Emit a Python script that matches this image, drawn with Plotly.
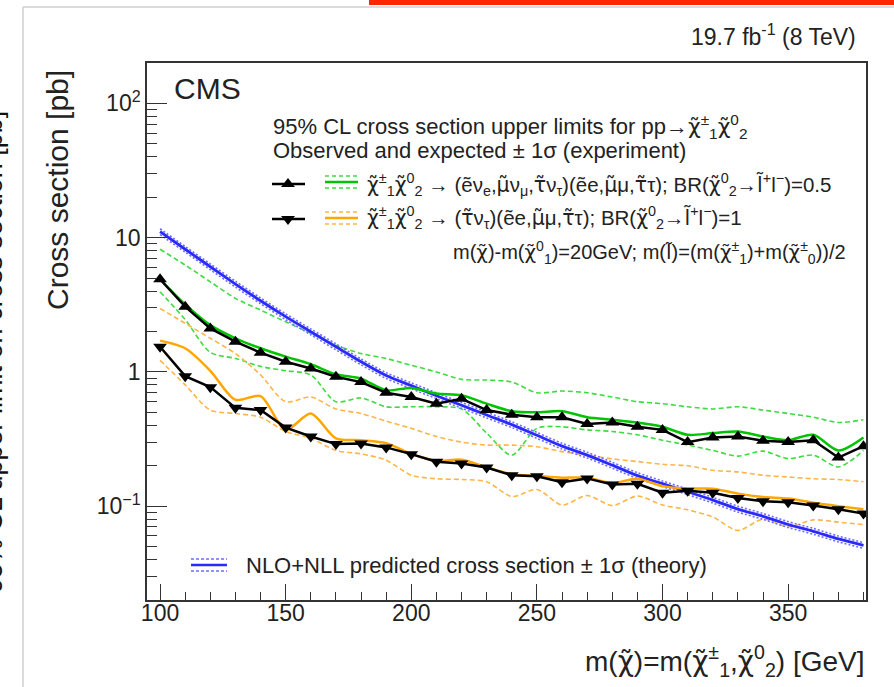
import plotly.graph_objects as go

# ---------------- data ----------------
mass = [100, 110, 120, 130, 140, 150, 160, 170, 180, 190, 200, 210, 220, 230, 240,
        250, 260, 270, 280, 290, 300, 310, 320, 330, 340, 350, 360, 370, 380]

theory = [11.1, 8.2, 6.07, 4.51, 3.39, 2.58, 1.99, 1.54, 1.19, 0.94, 0.79, 0.665, 0.565,
          0.478, 0.405, 0.337, 0.28, 0.24, 0.202, 0.169, 0.147, 0.128, 0.111, 0.095,
          0.084, 0.073, 0.065, 0.057, 0.051]
theory_up = [11.65, 8.6, 6.37, 4.74, 3.56, 2.71, 2.09, 1.62, 1.25, 0.987, 0.83, 0.698, 0.593,
             0.502, 0.425, 0.354, 0.294, 0.252, 0.212, 0.1775, 0.154, 0.134, 0.1165, 0.0998,
             0.0882, 0.0767, 0.0683, 0.0599, 0.0536]
theory_dn = [10.55, 7.8, 5.77, 4.28, 3.22, 2.45, 1.89, 1.46, 1.13, 0.893, 0.75, 0.632, 0.537,
             0.454, 0.385, 0.32, 0.266, 0.228, 0.192, 0.1605, 0.14, 0.122, 0.1055, 0.0903,
             0.0798, 0.0694, 0.0618, 0.0542, 0.0485]

obs_a = [4.9, 3.06, 2.11, 1.68, 1.39, 1.19, 1.06, 0.92, 0.84, 0.70, 0.65, 0.58, 0.63, 0.52,
         0.48, 0.46, 0.46, 0.41, 0.42, 0.39, 0.37, 0.30, 0.325, 0.33, 0.307, 0.30, 0.31,
         0.23, 0.28]
exp_a = [4.9, 3.18, 2.23, 1.78, 1.50, 1.30, 1.14, 0.96, 0.89, 0.73, 0.76, 0.69, 0.67, 0.58,
         0.51, 0.50, 0.51, 0.46, 0.44, 0.42, 0.39, 0.34, 0.35, 0.36, 0.33, 0.31, 0.34,
         0.26, 0.325]
exp_a_up = [8.2, 6.25, 4.69, 3.53, 2.89, 2.36, 1.94, 1.58, 1.37, 1.26, 1.12, 1.0, 0.88, 0.87,
            0.84, 0.70, 0.72, 0.70, 0.65, 0.60, 0.58, 0.55, 0.53, 0.55, 0.52, 0.49, 0.46,
            0.42, 0.44]
exp_a_dn = [3.95, 2.45, 1.40, 1.26, 1.10, 1.02, 0.95, 0.60, 0.64, 0.55, 0.55, 0.55, 0.53,
            0.35, 0.24, 0.38, 0.39, 0.37, 0.36, 0.34, 0.31, 0.285, 0.26, 0.236, 0.257,
            0.226, 0.24, 0.196, 0.26]

obs_b = [1.54, 0.93, 0.77, 0.54, 0.52, 0.385, 0.33, 0.29, 0.293, 0.274, 0.244, 0.214, 0.208,
         0.194, 0.170, 0.167, 0.151, 0.161, 0.145, 0.147, 0.126, 0.130, 0.126, 0.115,
         0.109, 0.107, 0.101, 0.095, 0.088]
exp_b = [1.71, 1.50, 1.02, 0.62, 0.66, 0.37, 0.49, 0.32, 0.31, 0.295, 0.245, 0.218, 0.222,
         0.195, 0.173, 0.168, 0.163, 0.163, 0.149, 0.160, 0.141, 0.135, 0.135, 0.124,
         0.117, 0.114, 0.106, 0.100, 0.095]
exp_b_up = [2.97, 2.3, 1.78, 1.37, 0.95, 0.60, 0.65, 0.53, 0.49, 0.43, 0.38, 0.33, 0.30,
            0.285, 0.285, 0.277, 0.255, 0.24, 0.225, 0.215, 0.205, 0.20, 0.185, 0.18, 0.17,
            0.165, 0.16, 0.158, 0.152]
exp_b_dn = [1.22, 0.80, 0.52, 0.49, 0.46, 0.36, 0.32, 0.26, 0.245, 0.22, 0.17, 0.16, 0.158,
            0.152, 0.118, 0.133, 0.102, 0.12, 0.101, 0.119, 0.102, 0.094, 0.083, 0.066,
            0.080, 0.070, 0.079, 0.076, 0.073]

x_ticks = [100, 150, 200, 250, 300, 350]
y_ticks = [0.1, 1, 10, 100]
y_ticktext = ["10<sup>\u22121</sup>", "1", "10", "10<sup>2</sup>"]

# ---------------- styling ----------------
FONT = "Liberation Sans, Arial, Helvetica, sans-serif"
W, H = 894, 687
L, R, T, B = 147, 866, 63, 600
BLUE = "#2a2aff"
BLUE_L = "#6d6dff"
GREEN = "#00c400"
GREEN_L = "#3fdc3f"
ORANGE = "#ffa600"
ORANGE_L = "#ffb547"


def fx(p):
    return (p - L) / (R - L)


def fy(p):
    return (B - p) / (B - T)


fig = go.Figure()


def line(y, color, width, dash="solid", shape="spline"):
    fig.add_trace(go.Scatter(x=mass, y=y, mode="lines", hoverinfo="skip",
                             line=dict(color=color, width=width, dash=dash, shape=shape,
                                       smoothing=0.8)))


# bands
line(exp_a_up, GREEN_L, 1.6, "5px,3px")
line(exp_a_dn, GREEN_L, 1.6, "5px,3px")
line(exp_b_up, ORANGE_L, 1.6, "5px,3px")
line(exp_b_dn, ORANGE_L, 1.6, "5px,3px")
# theory
line(theory_up, BLUE_L, 1.6, "2px,2px")
line(theory_dn, BLUE_L, 1.6, "2px,2px")
line(theory, BLUE, 2.8)
# expected
line(exp_a, GREEN, 2.5)
line(exp_b, ORANGE, 2.5)
# observed
fig.add_trace(go.Scatter(x=mass, y=obs_a, mode="lines+markers", hoverinfo="skip",
                         line=dict(color="black", width=2.5),
                         marker=dict(symbol="triangle-up", size=12, color="black")))
fig.add_trace(go.Scatter(x=mass, y=obs_b, mode="lines+markers", hoverinfo="skip",
                         line=dict(color="black", width=2.5),
                         marker=dict(symbol="triangle-down", size=12, color="black")))


# ---------------- legend glyphs on an overlay axis (pixel-mapped) ----------------
def glyph(x0, x1, yp, color, width, dash="solid"):
    fig.add_trace(go.Scatter(x=[fx(x0), fx(x1)], y=[fy(yp), fy(yp)], mode="lines",
                             xaxis="x2", yaxis="y2", hoverinfo="skip",
                             line=dict(color=color, width=width, dash=dash)))


glyph(272, 305, 184, "black", 2.5)
fig.add_trace(go.Scatter(x=[fx(288)], y=[fy(184)], mode="markers", xaxis="x2", yaxis="y2",
                         hoverinfo="skip",
                         marker=dict(symbol="triangle-up", size=12, color="black")))
glyph(325, 358, 182, GREEN, 2.5)
glyph(325, 358, 176, GREEN_L, 1.5, "4px,3px")
glyph(325, 358, 188, GREEN_L, 1.5, "4px,3px")

glyph(272, 305, 219, "black", 2.5)
fig.add_trace(go.Scatter(x=[fx(288)], y=[fy(219)], mode="markers", xaxis="x2", yaxis="y2",
                         hoverinfo="skip",
                         marker=dict(symbol="triangle-down", size=12, color="black")))
glyph(325, 358, 218, ORANGE, 2.5)
glyph(325, 358, 212, ORANGE_L, 1.5, "4px,3px")
glyph(325, 358, 224, ORANGE_L, 1.5, "4px,3px")

glyph(191, 227, 565, BLUE, 2.5)
glyph(191, 227, 559, BLUE_L, 1.5, "3px,2px")
glyph(191, 227, 571, BLUE_L, 1.5, "3px,2px")


# ---------------- texts ----------------
def tl(c):
    """letter with a tilde above, drawn with a font that positions combining marks"""
    return '<span style="font-family:DejaVu Sans">' + c + "\u0303</span>"


chi = tl("\u03c7")
mu_t = tl("\u03bc")
tau_t = tl("\u03c4")
l_t = tl("l")
ann = []


def text(s, xp, yp, size, xanchor="left", yanchor="middle", angle=0, color="#222"):
    ann.append(dict(text=s, x=fx(xp), y=fy(yp), xref="paper", yref="paper",
                    xanchor=xanchor, yanchor=yanchor, showarrow=False, textangle=angle,
                    font=dict(family=FONT, size=size, color=color)))


FH = 22     # plain header lines
FE = 20.5   # legend entry lines
text("CMS", 172, 89, 30)
text("19.7 fb<sup>-1</sup> (8 TeV)", 858, 35, 23, xanchor="right")
text("95% CL cross section upper limits for pp\u2192" + chi + "<sup>\u00b1</sup><sub>1</sub>"
     + chi + "<sup>0</sup><sub>2</sub>", 271, 126, FH)
text("Observed and expected \u00b1 1\u03c3 (experiment)", 271, 150, FH)
text(chi + "<sup>\u00b1</sup><sub>1</sub>" + chi + "<sup>0</sup><sub>2</sub> \u2192 "
     "(\u1ebd\u03bd<sub>e</sub>," + mu_t + "\u03bd<sub>\u03bc</sub>," + tau_t
     + "\u03bd<sub>\u03c4</sub>)(\u1ebde," + mu_t + "\u03bc," + tau_t + "\u03c4); BR("
     + chi + "<sup>0</sup><sub>2</sub>\u2192" + l_t + "<sup>+</sup>l<sup>\u2212</sup>)=0.5",
     365, 184, FE)
text(chi + "<sup>\u00b1</sup><sub>1</sub>" + chi + "<sup>0</sup><sub>2</sub> \u2192 ("
     + tau_t + "\u03bd<sub>\u03c4</sub>)(\u1ebde," + mu_t + "\u03bc," + tau_t + "\u03c4); BR("
     + chi + "<sup>0</sup><sub>2</sub>\u2192" + l_t + "<sup>+</sup>l<sup>\u2212</sup>)=1",
     365, 218, FE)
text("m(" + chi + ")-m(" + chi + "<sup>0</sup><sub>1</sub>)=20GeV; m(" + l_t + ")=(m(" + chi
     + "<sup>\u00b1</sup><sub>1</sub>)+m(" + chi + "<sup>\u00b1</sup><sub>0</sub>))/2",
     451, 252, 20)
text("NLO+NLL predicted cross section \u00b1 1\u03c3 (theory)", 244, 565, FH)
text("m(" + chi + ")=m(" + chi + "<sup>\u00b1</sup><sub>1</sub>," + chi
     + "<sup>0</sup><sub>2</sub>) [GeV]", 867, 661, 28, xanchor="right")
text("Cross section [pb]", 57, 68, 30, xanchor="center", yanchor="top", angle=-90)
# cut-off label of the neighbouring panel
text("95% CL upper limit on cross section [pb]", 10, 352, 27, xanchor="right", angle=-90,
     color="#111")

shapes = [
    dict(type="rect", xref="paper", yref="paper", x0=fx(369), x1=fx(894), y0=fy(0), y1=fy(5),
         fillcolor="#ff2600", line=dict(width=0)),
    dict(type="line", xref="paper", yref="paper", x0=fx(23), x1=fx(894), y0=fy(7), y1=fy(7),
         line=dict(color="#cfcfcf", width=1.5)),
    dict(type="line", xref="paper", yref="paper", x0=fx(23), x1=fx(23), y0=fy(7), y1=fy(687),
         line=dict(color="#cfcfcf", width=1.5)),
]

minor_y = [m * 10 ** e for e in range(-2, 3) for m in range(2, 10) if 0.02 <= m * 10 ** e <= 200]

fig.update_layout(
    width=W, height=H,
    margin=dict(l=L, r=W - R, t=T, b=H - B, pad=0),
    paper_bgcolor="white", plot_bgcolor="white",
    showlegend=False,
    annotations=ann, shapes=shapes,
    font=dict(family=FONT, color="#222"),
    xaxis=dict(range=[94.8, 381.0], showgrid=False, zeroline=False,
               showline=True, linecolor="#333", linewidth=1.5, mirror=True,
               ticks="inside", ticklen=16, tickwidth=1.3, tickcolor="#333",
               tickmode="array", tickvals=x_ticks, ticklabelstandoff=-8,
               tickfont=dict(family=FONT, size=23, color="#222"),
               minor=dict(ticks="inside", ticklen=8, tickwidth=1.2, tickcolor="#333",
                          dtick=10, tick0=100, showgrid=False)),
    yaxis=dict(type="log", range=[-1.69897, 2.30103], showgrid=False, zeroline=False,
               showline=True, linecolor="#333", linewidth=1.5, mirror=True,
               ticks="inside", ticklen=20, tickwidth=1.3, tickcolor="#333",
               tickmode="array", tickvals=y_ticks, ticktext=y_ticktext,
               tickfont=dict(family=FONT, size=23, color="#222"),
               minor=dict(ticks="inside", ticklen=10, tickwidth=1.2, tickcolor="#333",
                          tickmode="array", tickvals=minor_y, showgrid=False)),
    xaxis2=dict(overlaying="x", range=[0, 1], visible=False),
    yaxis2=dict(overlaying="y", range=[0, 1], visible=False),
)

fig.write_html("out.html")
